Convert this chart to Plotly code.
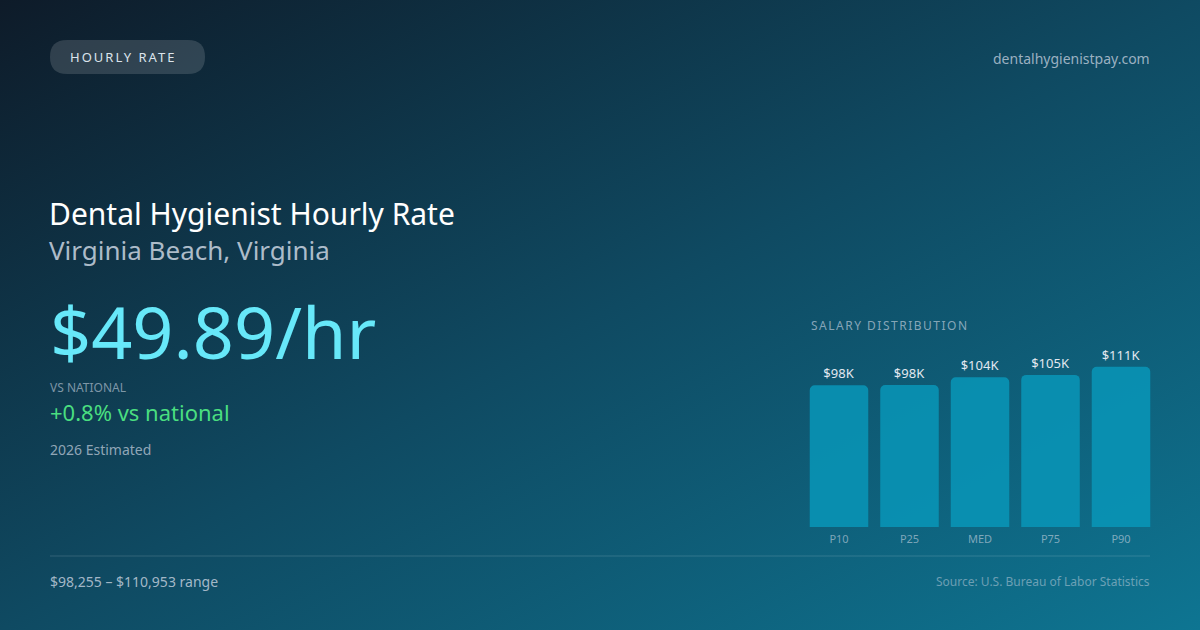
import base64
import plotly.graph_objects as go

# salary distribution (annual, USD)
percentiles = ["P10", "P25", "MED", "P75", "P90"]
salaries = [98255, 98400, 103771, 105400, 110953]
bar_labels = ["$98K", "$98K", "$104K", "$105K", "$111K"]

hourly_rate = "$49.89/hr"
vs_national = "+0.8% vs national"
title = "Dental Hygienist Hourly Rate"
location = "Virginia Beach, Virginia"
range_text = "$98,255 – $110,953 range"

W, H = 1200, 630
FONT = "Noto Sans"


def px(x):
    return x / W


def py(y):
    return 1 - y / H


# background gradient as svg image
svg = f"""<svg xmlns='http://www.w3.org/2000/svg' width='{W}' height='{H}'>
<defs><linearGradient id='g' x1='0' y1='0' x2='1' y2='1'>
<stop offset='0' stop-color='#0e1b29'/>
<stop offset='0.5' stop-color='#0f4a62'/>
<stop offset='1' stop-color='#0e7592'/>
</linearGradient></defs>
<rect width='{W}' height='{H}' fill='url(#g)'/></svg>"""
bg_src = "data:image/svg+xml;base64," + base64.b64encode(svg.encode()).decode()

fig = go.Figure()
fig.add_trace(go.Bar(
    x=percentiles,
    y=salaries,
    text=bar_labels,
    textposition="outside",
    textfont=dict(family=FONT, size=13, color="#e2e8f0"),
    marker=dict(color="rgba(8,150,185,0.85)", line=dict(width=0)),
    cliponaxis=False,
    hoverinfo="skip",
))

annotations = []


def txt(x, y, s, size, color, anchor="left", spacing=None):
    if spacing:
        s = f'<span style="letter-spacing:{spacing}px">{s}</span>'
    annotations.append(dict(
        x=px(x), y=py(y), xref="paper", yref="paper", text=s, showarrow=False,
        xanchor=anchor, yanchor="middle",
        font=dict(family=FONT, size=size, color=color),
    ))


txt(68, 57, "HOURLY RATE", 13, "#dbe4ec", spacing=2)
txt(1152, 58, "dentalhygienistpay.com", 14, "rgba(203,213,225,0.75)", "right")
txt(47, 213, title, 30, "#ffffff")
txt(47, 250, location, 26, "rgba(203,213,225,0.85)")
txt(48, 331, hourly_rate, 72, "#67e8f9")
txt(48, 387, "VS NATIONAL", 12, "rgba(203,213,225,0.6)")
txt(48, 412, vs_national, 22, "#4ade80")
txt(48, 449, "2026 Estimated", 14, "rgba(203,213,225,0.7)")
txt(809, 325, "SALARY DISTRIBUTION", 12, "rgba(203,213,225,0.65)", spacing=1.5)
txt(48, 581, range_text, 14, "rgba(203,213,225,0.8)")
txt(1152, 581, "Source: U.S. Bureau of Labor Statistics", 12, "rgba(203,213,225,0.5)", "right")

# pill behind "HOURLY RATE"
x0, x1, y0, y1, r = 50, 205, 40, 74, 17
pill = (f"M {px(x0 + r)} {py(y0)} L {px(x1 - r)} {py(y0)} "
        f"Q {px(x1)} {py(y0)} {px(x1)} {py((y0 + y1) / 2)} "
        f"Q {px(x1)} {py(y1)} {px(x1 - r)} {py(y1)} "
        f"L {px(x0 + r)} {py(y1)} "
        f"Q {px(x0)} {py(y1)} {px(x0)} {py((y0 + y1) / 2)} "
        f"Q {px(x0)} {py(y0)} {px(x0 + r)} {py(y0)} Z")

shapes = [
    dict(type="path", path=pill, xref="paper", yref="paper",
         fillcolor="rgba(255,255,255,0.14)", line=dict(width=0), layer="below"),
    dict(type="line", xref="paper", yref="paper", x0=px(50), x1=px(1150),
         y0=py(556), y1=py(556), line=dict(color="rgba(255,255,255,0.15)", width=1)),
]

fig.update_layout(
    width=W, height=H,
    margin=dict(l=0, r=0, t=0, b=0),
    paper_bgcolor="#0e3a50",
    plot_bgcolor="rgba(0,0,0,0)",
    showlegend=False,
    bargap=0.17,
    barcornerradius=5,
    images=[dict(source=bg_src, xref="paper", yref="paper", x=0, y=1,
                 sizex=1, sizey=1, sizing="stretch", layer="below",
                 xanchor="left", yanchor="top")],
    xaxis=dict(domain=[px(803.75), px(1156.25)], showgrid=False, zeroline=False,
               showline=False, ticks="", ticklabelstandoff=4,
               tickfont=dict(family=FONT, size=11, color="rgba(203,213,225,0.6)")),
    yaxis=dict(domain=[py(527), py(330)], range=[0, 136500], visible=False),
    annotations=annotations,
    shapes=shapes,
)

fig.write_html("out.html", config={"displayModeBar": False},
               post_script="document.body.style.margin='0';")
